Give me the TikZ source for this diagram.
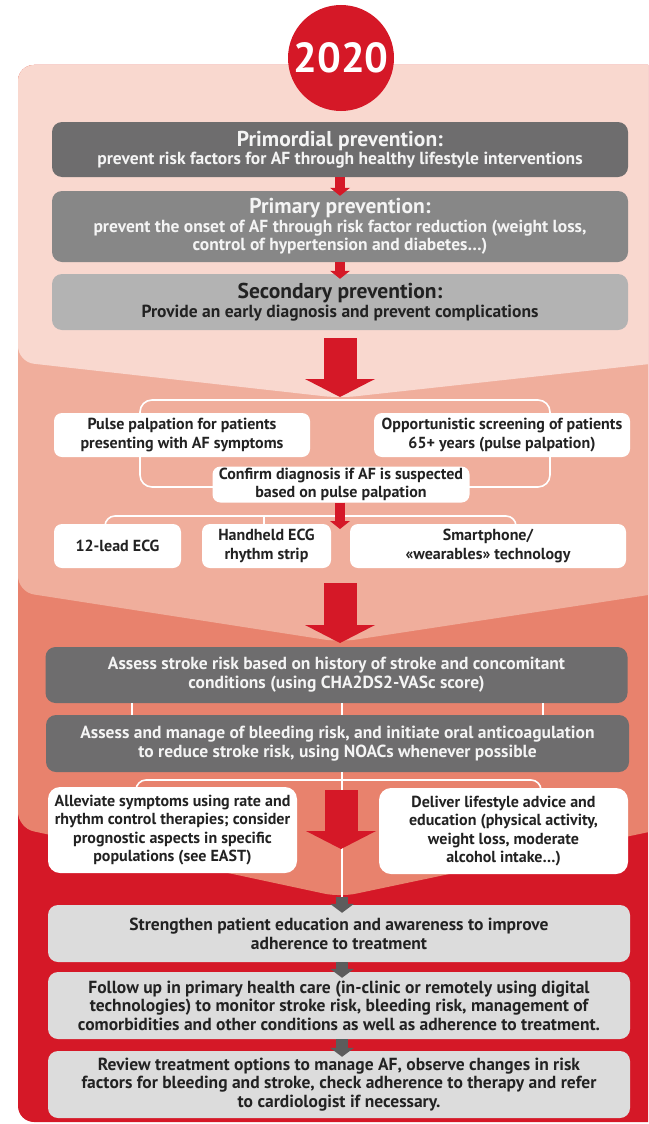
\documentclass[tikz,border=0pt]{standalone}
\usepackage{fontspec}
\setmainfont{PT Sans}
\usetikzlibrary{arrows.meta}
\definecolor{cred}{HTML}{D51827}
\definecolor{layerA}{HTML}{F9D8CF}
\definecolor{layerB}{HTML}{F0AE9C}
\definecolor{layerC}{HTML}{E8826D}
\definecolor{gdark}{HTML}{6E6D6E}
\definecolor{gmid}{HTML}{878787}
\definecolor{glight}{HTML}{B3B3B3}
\definecolor{gpale}{HTML}{DCDCDC}
\definecolor{garrow}{HTML}{5C5C5C}
\definecolor{tdark}{HTML}{222222}
\definecolor{tlight}{HTML}{F4F4F4}
\newcommand\boxtxt{\fontsize{16}{18.3}\selectfont\bfseries}
\newcommand\widetxt{\fontsize{17.5}{18.5}\selectfont\bfseries}
\newcommand\boxhead{\fontsize{21.5}{23}\selectfont\bfseries}
\begin{document}
\begin{tikzpicture}[x=1pt,y=-1pt,
  box/.style={rounded corners=10pt, align=center, inner sep=0pt, font=\boxtxt},
  wide/.style={font=\widetxt},
  darkbox/.style={box, wide, fill=gdark, text=tlight},
  midbox/.style={box, wide, fill=gmid, text=tlight},
  lightbox/.style={box, wide, fill=glight, text=tdark},
  whitebox/.style={box, fill=white, text=tdark, rounded corners=8pt},
  palebox/.style={box, wide, fill=gpale, text=tdark},
  wire/.style={draw=white, line width=1.6pt},
  redarrow/.style={draw=cred, line width=10pt, -{Triangle[width=20pt,length=8pt,line width=0pt]}},
  bigarrow/.style={draw=cred, line width=33pt, -{Triangle[width=70pt,length=18pt,line width=0pt]}},
  greyarrow/.style={draw=garrow, line width=12pt, -{Triangle[width=24pt,length=9pt,line width=0pt]}}
]
\useasboundingbox (0,0) rectangle (648,1124);
\begin{scope}
\clip (0,0) rectangle (648,1124);
\fill[cred, rounded corners=16pt] (18,65) rectangle (668,1122);
\fill[layerC, rounded corners=16pt] (18,828) -- (18,65) -- (668,65) -- (668,828) -- (340,897) -- cycle;
\fill[layerB, rounded corners=16pt] (18,592) -- (18,65) -- (668,65) -- (668,592) -- (340,642) -- cycle;
\fill[layerA, rounded corners=16pt] (18,362) -- (18,65) -- (668,65) -- (668,362) -- (340,398) -- cycle;
\end{scope}

\node[circle, fill=cred, minimum size=106pt, inner sep=0pt, text=white, font=\fontsize{42}{42}\selectfont\bfseries] (year) at (341,58) {2020};

% top three boxes
\node[darkbox, minimum width=576pt, minimum height=55pt] (prim) at (340,149.5)
  {{\boxhead Primordial prevention:}\\prevent risk factors for AF through healthy lifestyle interventions};
\node[midbox, minimum width=576pt, minimum height=71pt] (primary) at (340,226.5)
  {{\boxhead Primary prevention:}\\prevent the onset of AF through risk factor reduction (weight loss,\\control of hypertension and diabetes\dots)};
\node[lightbox, minimum width=576pt, minimum height=56pt] (second) at (340,302)
  {{\boxhead Secondary prevention:}\\Provide an early diagnosis and prevent complications};
\draw[redarrow, shorten >=-5pt] (prim.south) -- (primary.north);
\draw[redarrow, shorten >=-5pt] (primary.south) -- (second.north);

% screening section
\coordinate (b1a) at (140,400);
\coordinate (b1b) at (550,487);
\draw[wire, rounded corners=12pt] (b1a) rectangle (b1b);
\coordinate (a1e) at (340,400);
\draw[bigarrow, shorten <=8pt, shorten >=3pt] (second.south) -- (a1e);

\coordinate (b2l) at (105,530);
\coordinate (b2r) at (516,530);
\coordinate (b2m) at (264,516);
\draw[wire, rounded corners=10pt] (b2l) |- (b2m) -| (b2r);
\draw[wire] (b2m) -- ++(0,12);

\node[whitebox, minimum width=256pt, minimum height=44pt] (pulse) at (182,435)
  {Pulse palpation for patients\\presenting with AF symptoms};
\node[whitebox, minimum width=256pt, minimum height=44pt] (opp) at (502,435)
  {Opportunistic screening of patients\\65+ years (pulse palpation)};
\node[whitebox, minimum width=257pt, minimum height=36pt] (confirm) at (341,484.5)
  {Confirm diagnosis if AF is suspected\\based on pulse palpation};
\node[whitebox, minimum width=127pt, minimum height=44pt] (ecg) at (117.5,546) {12-lead ECG};
\node[whitebox, minimum width=129pt, minimum height=44pt] (hand) at (266.5,546) {Handheld ECG\\rhythm strip};
\node[whitebox, minimum width=276pt, minimum height=44pt] (smart) at (488,546) {Smartphone/\\«wearables» technology};
\coordinate (a0e) at (340,529);
\draw[redarrow] (confirm.south -| a0e) -- (a0e);

% management section
\coordinate (a2s) at (340,583);
\coordinate (a2e) at (340,643);
\draw[bigarrow] (a2s) -- (a2e);

\node[darkbox, minimum width=582pt, minimum height=56pt, font=\fontsize{17.5}{19}\selectfont\bfseries] (stroke) at (336.5,675)
  {Assess stroke risk based on history of stroke and concomitant\\conditions (using CHA2DS2-VASc score)};
\node[darkbox, minimum width=583pt, minimum height=57pt, font=\fontsize{17.5}{19}\selectfont\bfseries] (bleed) at (337.5,743.5)
  {Assess and manage of bleeding risk, and initiate oral anticoagulation\\to reduce stroke risk, using NOACs whenever possible};
\foreach \xx in {132,342,543} \draw[wire] (\xx,703) -- (\xx,715);

\coordinate (v3) at (342,897);
\draw[wire] (bleed.south -| v3) -- (v3);
\coordinate (b3l) at (136,795);
\coordinate (b3r) at (541,795);
\draw[wire, rounded corners=10pt] (b3l) |- (340,780) -| (b3r);

\node[whitebox, minimum width=249pt, minimum height=86pt, rounded corners=12pt] (allev) at (172.5,830)
  {Alleviate symptoms using rate and\\rhythm control therapies; consider\\prognostic aspects in specific\\populations (see EAST)};
\node[whitebox, minimum width=249pt, minimum height=86pt, rounded corners=12pt] (deliver) at (503.5,831)
  {Deliver lifestyle advice and\\education (physical activity,\\weight loss, moderate\\alcohol intake\dots)};
\coordinate (a3s) at (341,790);
\coordinate (a3e) at (341,849);
\draw[bigarrow] (a3s) -- (a3e);

% follow-up section
\node[palebox, minimum width=582pt, minimum height=57pt, font=\fontsize{17.5}{19}\selectfont\bfseries] (strength) at (339,933.5)
  {Strengthen patient education and awareness to improve\\adherence to treatment};
\node[palebox, minimum width=582pt, minimum height=67pt] (follow) at (339,1005.5)
  {Follow up in primary health care (in-clinic or remotely using digital\\technologies) to monitor stroke risk, bleeding risk, management of\\comorbidities and other conditions as well as adherence to treatment.};
\node[palebox, minimum width=582pt, minimum height=67pt] (review) at (339,1084.5)
  {Review treatment options to manage AF, observe changes in risk\\factors for bleeding and stroke, check adherence to therapy and refer\\to cardiologist if necessary.};
\draw[greyarrow, shorten >=-8pt] (v3) -- (strength.north -| v3);
\draw[greyarrow, shorten >=-6pt] (strength.south -| v3) -- (follow.north -| v3);
\draw[greyarrow, shorten >=-6pt] (follow.south -| v3) -- (review.north -| v3);
\end{tikzpicture}
\end{document}
